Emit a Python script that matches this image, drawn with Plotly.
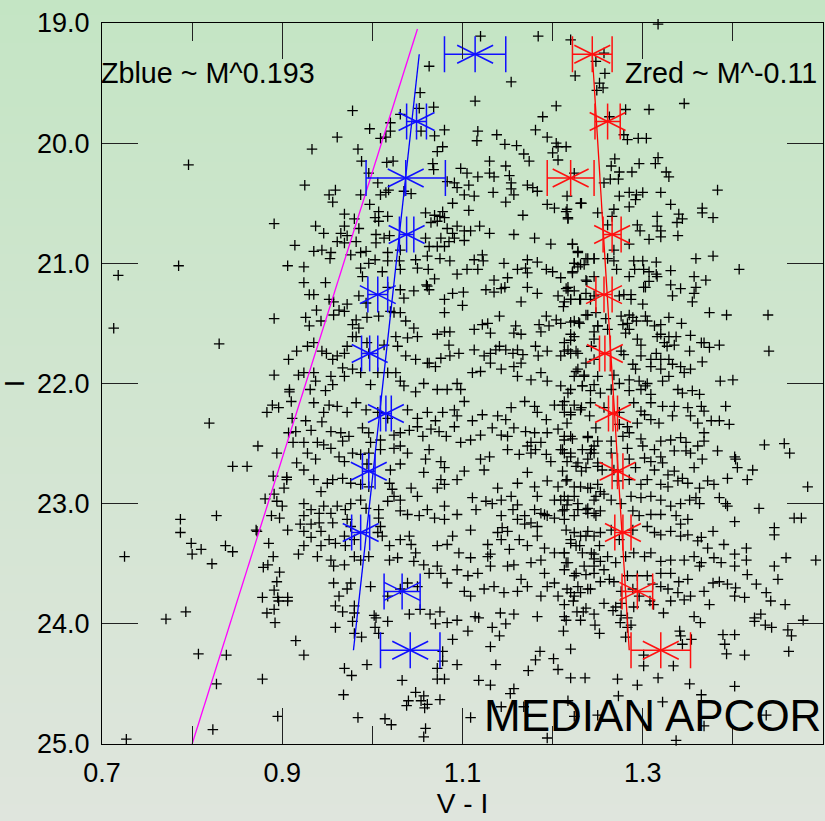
import plotly.graph_objects as go

# (V-I, I) photometry of the cluster candidates, grouped by region of the diagram
upper_pts = [
    (0.796, 20.18),
    (1.120, 19.11), (1.184, 19.11), (1.063, 19.36), (1.154, 19.49), (1.114, 19.65), (1.053, 19.58),
    (0.978, 19.73), (1.052, 19.71), (1.068, 19.70), (1.031, 19.76), (1.020, 19.83), (0.997, 19.88),
    (0.961, 19.95), (1.009, 19.96), (1.015, 19.95), (1.020, 19.90), (1.054, 19.90), (1.069, 19.94),
    (1.080, 19.89), (0.933, 20.05), (0.984, 20.05), (0.988, 20.15), (1.016, 20.16), (1.023, 20.15),
    (1.078, 20.03), (1.072, 20.07), (1.067, 20.17), (1.068, 20.22), (1.117, 19.90), (1.116, 19.98),
    (1.138, 19.93), (1.147, 20.01), (1.160, 20.02), (1.168, 20.09), (1.174, 20.15), (1.130, 20.15),
    (1.098, 20.21), (1.105, 20.25), (1.117, 20.28), (1.130, 20.25), (1.135, 20.28), (1.148, 20.19),
    (1.152, 20.27), (1.189, 19.78), (1.204, 19.69), (1.181, 19.89), (1.194, 19.95), (1.204, 20.00),
    (1.206, 20.03), (1.215, 20.03), (1.200, 20.08), (1.206, 20.14), (1.220, 19.14), (1.225, 19.44),
    (0.925, 20.35), (0.952, 20.43), (0.959, 20.39), (0.987, 20.43), (0.996, 20.25), (1.006, 20.33),
    (1.009, 20.43), (1.015, 20.41), (1.018, 20.39), (1.035, 20.40), (1.043, 20.42), (1.083, 20.32),
    (1.091, 20.33), (1.094, 20.37), (1.107, 20.35), (1.102, 20.43), (1.113, 20.44), (1.134, 20.41),
    (1.154, 20.33), (1.154, 20.38), (1.157, 20.43), (1.172, 20.35), (1.178, 20.37), (1.183, 20.40),
    (1.216, 20.44), (1.224, 20.25),
    (1.317, 19.01), (1.257, 19.25), (1.248, 19.32), (1.258, 19.42), (1.252, 19.50), (1.256, 19.54),
    (1.249, 19.56), (1.281, 19.72), (1.307, 19.72), (1.346, 19.67), (1.263, 19.78), (1.279, 19.93),
    (1.283, 19.97), (1.295, 19.96), (1.304, 19.96), (1.269, 20.13), (1.265, 20.19), (1.296, 20.17),
    (1.317, 20.12), (1.314, 20.17), (1.274, 20.24), (1.273, 20.30), (1.288, 20.24), (1.326, 20.24),
    (1.329, 20.28), (1.257, 20.33), (1.264, 20.30), (1.383, 20.39), (1.274, 20.44), (1.285, 20.41),
    (1.293, 20.43), (1.300, 20.41), (1.320, 20.41),
]

left_pts = [
    (0.891, 20.67), (0.914, 20.85), (0.785, 21.02), (0.906, 21.02), (0.718, 21.10), (0.891, 21.46),
    (0.713, 21.54), (0.830, 21.67), (0.916, 21.73), (0.907, 21.80), (0.891, 21.93), (0.908, 22.05),
    (0.908, 22.07), (0.918, 21.93),
    (0.819, 22.33), (0.883, 22.24), (0.889, 22.18), (0.896, 22.20), (0.910, 22.15), (0.911, 22.29),
    (0.915, 22.40), (0.907, 22.41), (0.912, 22.49), (0.916, 22.66), (0.873, 22.52), (0.894, 22.58),
    (0.845, 22.69), (0.861, 22.69), (0.890, 22.77), (0.905, 22.78), (0.905, 22.80), (0.902, 22.87),
    (0.881, 22.96), (0.891, 22.92), (0.894, 22.98), (0.900, 23.02), (0.888, 23.10), (0.897, 23.12),
    (0.906, 23.22), (0.871, 23.22), (0.872, 23.23), (0.920, 23.17), (0.918, 23.42), (0.827, 23.10),
    (0.787, 23.13), (0.787, 23.24), (0.799, 23.33), (0.800, 23.42), (0.810, 23.38), (0.837, 23.35),
    (0.845, 23.40), (0.822, 23.50), (0.725, 23.44), (0.885, 23.33), (0.890, 23.44), (0.879, 23.53),
    (0.884, 23.51), (0.897, 23.57), (0.894, 23.65), (0.891, 23.72), (0.878, 23.78), (0.895, 23.78),
    (0.906, 23.78),
]

mid_blue_pts = [
    (0.956, 20.49), (0.997, 20.51), (1.007, 20.57), (1.003, 20.62), (1.017, 20.61), (1.007, 20.65),
    (1.059, 20.58), (1.069, 20.60), (1.078, 20.57), (1.075, 20.61), (1.080, 20.62), (1.089, 20.50),
    (1.107, 20.56), (1.148, 20.49), (1.167, 20.60), (1.194, 20.51), (1.202, 20.54), (1.215, 20.57),
    (1.217, 20.62), (1.232, 20.50), (1.250, 20.58),
    (0.937, 20.69), (0.946, 20.75), (0.969, 20.59), (0.980, 20.63), (0.985, 20.71), (0.969, 20.69),
    (0.965, 20.75), (0.972, 20.77), (0.961, 20.82), (0.969, 20.83), (0.982, 20.82), (1.004, 20.76),
    (1.013, 20.79), (1.019, 20.77), (1.004, 20.83), (1.065, 20.66), (1.072, 20.65), (1.083, 20.71),
    (1.089, 20.75), (1.094, 20.69), (1.102, 20.73), (1.109, 20.73), (1.119, 20.69), (1.130, 20.75),
    (1.091, 20.79), (1.085, 20.82), (1.102, 20.81), (1.076, 20.79), (1.080, 20.86), (1.072, 20.86),
    (1.063, 20.86), (1.059, 20.79), (1.157, 20.76), (1.180, 20.79), (1.198, 20.84), (1.222, 20.84),
    (1.228, 20.90), (1.239, 20.96), (1.246, 20.96),
    (0.935, 20.90), (0.944, 20.89), (0.954, 20.91), (0.953, 20.96), (0.976, 20.93), (0.987, 20.91),
    (0.993, 20.90), (1.017, 20.91), (1.031, 20.89), (1.048, 20.97), (1.061, 20.94), (1.075, 20.96),
    (1.086, 20.98), (1.113, 20.97), (1.122, 20.93), (1.123, 20.98), (1.146, 21.00), (1.172, 20.97),
    (1.183, 20.99), (1.224, 21.00), (1.235, 21.01),
    (0.924, 21.03), (0.924, 21.16), (0.948, 21.16), (0.987, 21.04), (0.989, 21.11), (0.996, 21.00),
    (1.003, 20.97), (1.011, 21.07), (1.017, 20.98), (1.030, 20.98), (1.031, 21.05), (1.050, 21.04),
    (1.062, 21.05), (1.069, 21.13), (1.061, 21.19), (1.094, 21.09), (1.105, 21.05), (1.117, 21.05),
    (1.135, 21.14), (1.150, 21.12), (1.161, 21.05), (1.170, 21.04), (1.172, 21.08), (1.193, 21.05),
    (1.200, 21.07), (1.209, 21.12), (1.217, 21.20), (1.222, 21.08), (1.228, 21.03), (1.237, 21.14),
    (0.930, 21.26), (0.935, 21.26), (0.952, 21.30), (0.957, 21.32), (0.938, 21.39), (0.963, 21.39),
    (0.972, 21.34), (0.985, 21.27), (0.993, 21.33), (1.017, 21.20), (1.031, 21.22), (1.035, 21.29),
    (1.046, 21.23), (1.060, 21.18), (1.063, 21.22), (1.080, 21.30), (1.089, 21.25), (1.101, 21.24),
    (1.100, 21.35), (1.080, 21.41), (1.126, 21.22), (1.135, 21.24), (1.143, 21.21), (1.147, 21.20),
    (1.165, 21.32), (1.172, 21.20), (1.183, 21.25), (1.206, 21.27), (1.213, 21.32), (1.217, 21.23),
    (1.220, 21.30), (1.230, 21.30), (1.237, 21.25), (1.246, 21.27),
    (0.926, 21.45), (0.930, 21.52), (0.943, 21.48), (0.957, 21.43), (0.969, 21.40), (0.978, 21.51),
    (0.982, 21.47), (0.985, 21.54), (0.982, 21.61), (0.994, 21.45), (1.007, 21.44), (1.020, 21.40),
    (1.024, 21.41), (1.031, 21.41), (1.037, 21.48), (1.046, 21.54), (1.072, 21.59), (1.080, 21.57),
    (1.086, 21.57), (1.113, 21.55), (1.122, 21.51), (1.128, 21.50), (1.131, 21.58), (1.141, 21.44),
    (1.159, 21.52), (1.157, 21.58), (1.165, 21.59), (1.185, 21.51), (1.193, 21.44), (1.187, 21.57),
    (1.196, 21.52), (1.204, 21.47), (1.209, 21.50), (1.224, 21.48), (1.230, 21.50), (1.239, 21.43),
    (1.250, 21.52),
    (0.928, 21.69), (0.935, 21.66), (0.944, 21.73), (0.949, 21.75), (0.956, 21.80), (0.961, 21.77),
    (0.969, 21.75), (0.972, 21.69), (0.978, 21.61), (0.994, 21.66), (0.996, 21.75), (1.013, 21.68),
    (1.026, 21.61), (1.028, 21.69), (1.039, 21.62), (1.050, 21.61), (1.037, 21.77), (1.048, 21.80),
    (1.063, 21.83), (1.076, 21.79), (1.086, 21.77), (1.096, 21.75), (1.085, 21.68), (1.113, 21.72),
    (1.124, 21.77), (1.131, 21.75), (1.137, 21.72), (1.141, 21.69), (1.148, 21.72), (1.156, 21.75),
    (1.161, 21.72), (1.167, 21.76), (1.181, 21.69), (1.184, 21.77), (1.194, 21.73), (1.209, 21.77),
    (1.217, 21.72), (1.220, 21.64), (1.228, 21.75), (1.243, 21.69),
    (0.924, 21.91), (0.935, 21.91), (0.937, 21.98), (0.931, 22.05), (0.954, 21.94), (0.948, 22.06),
    (0.956, 22.01), (0.967, 21.87), (0.969, 21.94), (0.978, 21.88), (0.987, 21.91), (0.998, 22.01),
    (1.006, 21.91), (1.017, 21.91), (1.026, 21.91), (1.031, 21.98), (1.035, 22.02), (1.048, 22.07),
    (1.057, 22.00), (1.061, 21.83), (1.070, 21.86), (1.072, 22.05), (1.083, 22.05), (1.094, 22.00),
    (1.098, 22.05), (1.111, 21.91), (1.120, 21.90), (1.131, 21.83), (1.143, 21.88), (1.157, 21.86),
    (1.161, 21.94), (1.165, 21.83), (1.176, 21.97), (1.187, 21.91), (1.194, 21.98), (1.209, 22.02),
    (1.217, 22.08), (1.228, 21.88), (1.235, 21.94), (1.246, 22.01), (1.233, 22.02),
]

mid_red_pts = [
    (1.231, 20.50), (1.285, 20.53), (1.292, 20.47), (1.331, 20.51), (1.366, 20.54), (1.366, 20.58),
    (1.378, 20.62), (1.316, 20.61), (1.340, 20.59), (1.344, 20.63), (1.338, 20.66), (1.316, 20.69),
    (1.216, 20.55), (1.217, 20.63), (1.268, 20.55), (1.266, 20.61), (1.261, 20.68), (1.294, 20.68),
    (1.297, 20.73), (1.320, 20.73), (1.320, 20.78), (1.307, 20.80), (1.339, 20.77), (1.285, 20.84),
    (1.222, 20.84), (1.228, 20.91), (1.268, 20.89), (1.268, 20.98), (1.246, 20.96), (1.237, 20.96),
    (1.261, 20.96), (1.224, 21.00), (1.231, 21.01), (1.290, 20.98), (1.300, 20.98), (1.315, 20.99),
    (1.291, 21.05), (1.301, 21.05), (1.271, 21.05), (1.359, 20.96), (1.378, 20.94), (1.407, 21.05),
    (1.331, 21.06), (1.307, 21.07), (1.316, 21.11), (1.315, 21.09), (1.285, 21.11), (1.222, 21.07),
    (1.246, 21.11), (1.238, 21.15), (1.357, 21.11), (1.370, 21.14), (1.307, 21.15), (1.301, 21.20),
    (1.303, 21.20), (1.331, 21.18), (1.342, 21.21), (1.359, 21.20), (1.357, 21.25), (1.215, 21.21),
    (1.224, 21.23), (1.220, 21.30), (1.231, 21.30), (1.242, 21.30), (1.274, 21.27), (1.287, 21.26),
    (1.287, 21.30), (1.279, 21.26), (1.333, 21.27), (1.355, 21.32), (1.300, 21.34), (1.212, 21.36),
    (1.374, 21.41), (1.393, 21.43), (1.439, 21.43), (1.237, 21.43), (1.248, 21.41), (1.229, 21.49),
    (1.220, 21.49), (1.259, 21.46), (1.276, 21.44), (1.285, 21.43), (1.289, 21.45), (1.283, 21.50),
    (1.278, 21.51), (1.293, 21.48), (1.303, 21.44), (1.305, 21.48), (1.313, 21.52), (1.320, 21.51),
    (1.329, 21.45), (1.343, 21.50), (1.285, 21.55), (1.281, 21.58), (1.250, 21.52), (1.246, 21.57),
    (1.261, 21.55), (1.220, 21.59), (1.224, 21.61), (1.213, 21.66), (1.246, 21.63), (1.298, 21.68),
    (1.294, 21.63), (1.316, 21.61), (1.320, 21.59), (1.324, 21.66), (1.329, 21.61), (1.337, 21.61),
    (1.335, 21.68), (1.327, 21.69), (1.353, 21.60), (1.365, 21.66), (1.368, 21.66), (1.374, 21.70),
    (1.385, 21.68), (1.352, 21.73), (1.440, 21.73), (1.366, 21.82), (1.220, 21.75), (1.226, 21.73),
    (1.213, 21.73), (1.276, 21.73), (1.279, 21.76), (1.298, 21.77), (1.309, 21.80), (1.315, 21.75),
    (1.320, 21.80), (1.329, 21.80), (1.237, 21.83), (1.246, 21.80), (1.289, 21.84), (1.292, 21.88),
    (1.309, 21.86), (1.320, 21.88), (1.333, 21.84), (1.342, 21.86), (1.346, 21.91), (1.353, 21.88),
    (1.226, 21.90), (1.235, 21.93), (1.224, 21.94), (1.250, 21.94), (1.268, 21.93), (1.274, 22.00),
    (1.285, 21.97), (1.296, 21.98), (1.305, 22.00), (1.303, 22.02), (1.322, 21.98), (1.329, 21.94),
    (1.386, 21.98), (1.400, 21.97), (1.220, 22.05), (1.233, 22.02), (1.242, 22.06), (1.253, 22.08),
    (1.265, 22.05), (1.285, 22.06), (1.298, 22.05), (1.309, 22.09), (1.339, 22.05), (1.344, 22.08),
    (1.355, 22.06), (1.363, 22.09),
]

lower_blue_pts = [
    (0.935, 22.16), (0.952, 22.18), (0.946, 22.24), (0.961, 22.19), (0.972, 22.24), (0.982, 22.16),
    (0.993, 22.22), (1.006, 22.24), (1.017, 22.29), (1.039, 22.22), (1.050, 22.29), (1.061, 22.24),
    (1.070, 22.31), (1.078, 22.24), (1.091, 22.22), (1.102, 22.15), (1.094, 22.27), (1.111, 22.31),
    (1.122, 22.26), (1.139, 22.27), (1.154, 22.20), (1.148, 22.30), (1.169, 22.15), (1.180, 22.19),
    (1.183, 22.24), (1.193, 22.30), (1.202, 22.18), (1.211, 22.18), (1.213, 22.24), (1.220, 22.24),
    (1.232, 22.20), (1.241, 22.27), (0.926, 22.31), (0.944, 22.32),
    (0.932, 22.39), (0.954, 22.40), (0.965, 22.41), (0.967, 22.48), (0.974, 22.44), (0.989, 22.37),
    (0.996, 22.41), (0.998, 22.49), (1.009, 22.47), (1.024, 22.43), (1.031, 22.41), (1.041, 22.39),
    (1.050, 22.36), (1.056, 22.44), (1.065, 22.38), (1.074, 22.40), (1.082, 22.44), (1.091, 22.36),
    (1.098, 22.49), (1.109, 22.47), (1.120, 22.43), (1.133, 22.37), (1.143, 22.43), (1.150, 22.44),
    (1.157, 22.37), (1.170, 22.40), (1.180, 22.41), (1.176, 22.49), (1.187, 22.49), (1.194, 22.41),
    (1.206, 22.38), (1.213, 22.47), (1.220, 22.44), (1.239, 22.45), (1.248, 22.37), (0.924, 22.49),
    (0.939, 22.49), (0.946, 22.51),
    (0.928, 22.58), (0.937, 22.63), (0.954, 22.54), (0.963, 22.61), (0.969, 22.65), (0.978, 22.58),
    (0.987, 22.59), (0.996, 22.58), (1.009, 22.55), (1.024, 22.54), (1.031, 22.52), (1.039, 22.58),
    (1.063, 22.55), (1.076, 22.65), (1.080, 22.70), (1.059, 22.63), (1.120, 22.63), (1.130, 22.61),
    (1.124, 22.72), (1.102, 22.73), (1.150, 22.55), (1.163, 22.59), (1.172, 22.52), (1.176, 22.58),
    (1.181, 22.55), (1.193, 22.59), (1.198, 22.65), (1.209, 22.55), (1.213, 22.58), (1.220, 22.61),
    (1.228, 22.66), (1.239, 22.63), (1.243, 22.55), (1.246, 22.58), (1.250, 22.69), (0.994, 22.67),
    (1.020, 22.72), (1.031, 22.67),
    (0.924, 22.72), (0.935, 22.80), (0.950, 22.83), (0.943, 22.90), (0.956, 22.80), (0.967, 22.79),
    (0.976, 22.83), (0.987, 22.84), (0.996, 22.86), (1.019, 22.83), (1.022, 22.88), (1.031, 22.97),
    (1.043, 22.87), (1.050, 22.94), (1.057, 22.74), (1.076, 22.80), (1.094, 22.80), (1.072, 22.87),
    (1.080, 22.84), (1.111, 22.95), (1.115, 23.05), (1.139, 22.87), (1.143, 22.97), (1.154, 22.94),
    (1.161, 22.83), (1.172, 22.74), (1.180, 22.86), (1.183, 22.94), (1.194, 22.81), (1.206, 22.86),
    (1.215, 22.81), (1.224, 22.86), (1.232, 22.73), (1.239, 22.87), (1.248, 22.94), (1.239, 23.04),
    (1.228, 23.05), (1.217, 22.97), (1.209, 22.97), (1.202, 22.97), (1.194, 23.10), (1.187, 23.08),
    (1.180, 23.05), (1.169, 23.10), (1.161, 23.01), (1.156, 23.05), (1.143, 23.10), (1.133, 23.00),
    (0.924, 23.00), (0.932, 23.05), (0.924, 23.10), (0.941, 23.08), (0.946, 23.02), (0.954, 23.08),
    (0.961, 23.02), (0.970, 23.05), (0.976, 23.00), (0.987, 22.97), (0.993, 23.04), (1.007, 23.05),
    (1.017, 22.98), (1.024, 22.94), (1.031, 23.06), (1.039, 23.09), (1.052, 23.10), (1.061, 23.05),
    (1.069, 23.12), (1.080, 23.02), (1.080, 23.13), (1.094, 23.09), (1.109, 23.22), (1.126, 22.98),
    (1.144, 23.20), (1.150, 23.23), (1.161, 23.13), (1.169, 23.17), (1.176, 23.16), (1.183, 23.19),
    (1.191, 23.09), (1.202, 23.12), (1.213, 23.05), (1.246, 23.08), (0.924, 23.23), (0.932, 23.17),
    (0.941, 23.16), (0.943, 23.23), (0.956, 23.16), (0.972, 23.13), (0.976, 23.19), (1.007, 23.12),
    (1.009, 23.19),
    (0.924, 23.35), (0.932, 23.28), (0.943, 23.35), (0.952, 23.30), (0.959, 23.33), (0.969, 23.27),
    (0.970, 23.35), (0.980, 23.30), (1.006, 23.24), (1.011, 23.27), (1.019, 23.35), (1.031, 23.30),
    (1.041, 23.27), (1.043, 23.34), (1.048, 23.41), (1.072, 23.35), (1.083, 23.34), (1.089, 23.27),
    (1.096, 23.41), (1.109, 23.45), (1.128, 23.34), (1.131, 23.42), (1.139, 23.24), (1.143, 23.30),
    (1.152, 23.38), (1.163, 23.30), (1.172, 23.35), (1.183, 23.27), (1.191, 23.37), (1.202, 23.41),
    (1.213, 23.41), (1.220, 23.30), (1.230, 23.35), (1.237, 23.27), (1.243, 23.41), (1.246, 23.46),
    (1.252, 23.35),
    (0.939, 23.44), (0.954, 23.47), (0.957, 23.52), (0.969, 23.51), (0.980, 23.44), (0.987, 23.47),
    (0.996, 23.44), (1.019, 23.47), (1.028, 23.45), (1.046, 23.48), (1.057, 23.51), (1.063, 23.58),
    (1.072, 23.52), (1.076, 23.58), (1.094, 23.55), (1.106, 23.60), (1.117, 23.58), (1.128, 23.44),
    (1.131, 23.52), (1.150, 23.52), (1.157, 23.51), (1.165, 23.63), (1.176, 23.49), (1.187, 23.47),
    (1.191, 23.58), (1.202, 23.66), (1.213, 23.55), (1.217, 23.49), (1.224, 23.60), (1.235, 23.52),
    (1.246, 23.58), (0.957, 23.66), (0.976, 23.66), (0.963, 23.77), (0.972, 23.71), (0.998, 23.69),
    (1.017, 23.77), (1.031, 23.71), (1.039, 23.66), (1.050, 23.69), (1.083, 23.66), (1.102, 23.73),
    (1.109, 23.77), (1.124, 23.71), (1.135, 23.69), (1.146, 23.74), (1.161, 23.73), (1.172, 23.69),
    (1.187, 23.77), (1.194, 23.69), (1.206, 23.77), (1.220, 23.74), (1.228, 23.69), (1.239, 23.71),
]

lower_red_pts = [
    (1.213, 22.15), (1.224, 22.18), (1.220, 22.26), (1.216, 22.33), (1.231, 22.22), (1.242, 22.16),
    (1.257, 22.20), (1.274, 22.24), (1.290, 22.16), (1.298, 22.23), (1.309, 22.16), (1.322, 22.19),
    (1.335, 22.19), (1.333, 22.27), (1.350, 22.20), (1.353, 22.27), (1.365, 22.19), (1.368, 22.23),
    (1.361, 22.33), (1.376, 22.31), (1.385, 22.31), (1.396, 22.34), (1.392, 22.19), (1.368, 22.41),
    (1.318, 22.33), (1.309, 22.30), (1.302, 22.26), (1.294, 22.33), (1.283, 22.36), (1.274, 22.34),
    (1.213, 22.44), (1.222, 22.46), (1.239, 22.44), (1.250, 22.48), (1.265, 22.48), (1.278, 22.44),
    (1.285, 22.41), (1.298, 22.46), (1.320, 22.48), (1.331, 22.47), (1.342, 22.45), (1.348, 22.49),
    (1.361, 22.52), (1.368, 22.48), (1.383, 22.56), (1.402, 22.61), (1.403, 22.63), (1.435, 22.51),
    (1.457, 22.50), (1.463, 22.58), (1.246, 22.52), (1.233, 22.55), (1.242, 22.58), (1.220, 22.58),
    (1.211, 22.55), (1.265, 22.58), (1.283, 22.54), (1.300, 22.52), (1.313, 22.55), (1.320, 22.61),
    (1.335, 22.56), (1.348, 22.56), (1.353, 22.58),
    (1.216, 22.65), (1.226, 22.69), (1.237, 22.70), (1.250, 22.66), (1.255, 22.72), (1.268, 22.72),
    (1.285, 22.63), (1.292, 22.70), (1.302, 22.62), (1.309, 22.65), (1.313, 22.72), (1.322, 22.66),
    (1.328, 22.76), (1.335, 22.73), (1.344, 22.79), (1.357, 22.70), (1.366, 22.63), (1.372, 22.81),
    (1.379, 22.84), (1.394, 22.79), (1.405, 22.70), (1.416, 22.80), (1.422, 22.72), (1.363, 22.87),
    (1.211, 22.73), (1.216, 22.80), (1.231, 22.86), (1.242, 22.87), (1.250, 22.84), (1.253, 22.90),
    (1.272, 22.81), (1.285, 22.80), (1.298, 22.84), (1.305, 22.80), (1.320, 22.84), (1.328, 22.86),
    (1.339, 22.81), (1.350, 22.83),
    (1.213, 22.94), (1.224, 22.94), (1.228, 23.00), (1.216, 23.01), (1.237, 23.05), (1.246, 22.97),
    (1.257, 22.92), (1.265, 22.97), (1.276, 23.00), (1.287, 22.94), (1.298, 22.95), (1.309, 22.94),
    (1.320, 22.97), (1.331, 23.02), (1.342, 23.00), (1.352, 22.97), (1.359, 22.95), (1.363, 23.00),
    (1.385, 22.95), (1.392, 23.00), (1.394, 23.02), (1.402, 23.15), (1.429, 23.04), (1.446, 23.20),
    (1.446, 23.26), (1.211, 23.06), (1.213, 23.13), (1.224, 23.10), (1.239, 23.08), (1.248, 23.10),
    (1.253, 23.06), (1.289, 23.06), (1.296, 23.10), (1.309, 23.09), (1.320, 23.09), (1.337, 23.10),
    (1.342, 23.17), (1.350, 23.13),
    (1.215, 23.22), (1.224, 23.24), (1.231, 23.27), (1.239, 23.23), (1.246, 23.27), (1.253, 23.24),
    (1.265, 23.22), (1.274, 23.30), (1.289, 23.22), (1.305, 23.19), (1.313, 23.24), (1.320, 23.26),
    (1.331, 23.23), (1.342, 23.27), (1.350, 23.26), (1.361, 23.31), (1.365, 23.28), (1.372, 23.37),
    (1.378, 23.23), (1.390, 23.34), (1.402, 23.42), (1.415, 23.37), (1.468, 23.12), (1.476, 23.12),
    (1.483, 22.86), (1.220, 23.33), (1.213, 23.41), (1.226, 23.35), (1.233, 23.41), (1.246, 23.42),
    (1.253, 23.48), (1.261, 23.44), (1.270, 23.49), (1.281, 23.44), (1.290, 23.41), (1.302, 23.44),
    (1.309, 23.41), (1.320, 23.48), (1.331, 23.47), (1.346, 23.47), (1.357, 23.44), (1.365, 23.49),
    (1.379, 23.45), (1.387, 23.49), (1.402, 23.52), (1.415, 23.47), (1.446, 23.52), (1.459, 23.45),
    (1.492, 23.47),
    (1.215, 23.49), (1.226, 23.58), (1.237, 23.59), (1.246, 23.52), (1.257, 23.55), (1.268, 23.65),
    (1.283, 23.60), (1.294, 23.60), (1.305, 23.60), (1.311, 23.67), (1.320, 23.58), (1.331, 23.58),
    (1.340, 23.65), (1.350, 23.63), (1.363, 23.52), (1.378, 23.66), (1.385, 23.65), (1.394, 23.67),
    (1.403, 23.70), (1.416, 23.59), (1.426, 23.67), (1.437, 23.74), (1.450, 23.63), (1.216, 23.71),
    (1.224, 23.77), (1.231, 23.74), (1.242, 23.71), (1.253, 23.65), (1.263, 23.63), (1.276, 23.73),
    (1.289, 23.71), (1.296, 23.77), (1.320, 23.69), (1.328, 23.71), (1.339, 23.74), (1.353, 23.77),
    (1.368, 23.73), (1.402, 23.77), (1.413, 23.78),
]

faint_pts = [
    (0.771, 23.96), (0.793, 23.90), (0.807, 24.25), (0.838, 24.26), (0.827, 24.50), (0.823, 24.88),
    (0.727, 24.96), (0.878, 24.46), (0.895, 24.77), (0.883, 23.91), (0.891, 23.88), (0.892, 23.99),
    (0.896, 23.81), (0.906, 23.81), (0.915, 24.14),
    (0.959, 23.85), (0.967, 23.90), (0.980, 23.85), (0.980, 23.91), (0.978, 23.98), (0.959, 24.03),
    (0.980, 24.08), (0.988, 24.11), (0.924, 24.26), (1.002, 23.93), (1.004, 23.95), (1.003, 24.03),
    (1.007, 24.08), (1.017, 23.98), (1.041, 23.92), (1.053, 23.88), (1.064, 23.92), (1.075, 23.90),
    (1.070, 24.00), (1.083, 23.99), (1.094, 23.97), (1.089, 24.13), (1.106, 24.06), (1.114, 23.94),
    (1.118, 23.95), (1.133, 24.03), (1.141, 24.10), (1.142, 23.91), (1.148, 24.00), (1.157, 23.92),
    (1.183, 23.94), (1.213, 23.84), (1.213, 23.94), (1.215, 23.97), (1.212, 24.06), (1.223, 23.81),
    (1.227, 23.90), (1.234, 23.90), (1.237, 23.87), (1.246, 23.92), (1.247, 24.01), (1.252, 24.08),
    (1.231, 23.97), (1.131, 24.19), (1.137, 24.34), (1.094, 24.34), (1.078, 24.23), (1.078, 24.31),
    (1.072, 24.37), (0.969, 24.37), (0.977, 24.43), (0.994, 24.34), (0.968, 24.59), (1.033, 24.47),
    (1.072, 24.46), (1.080, 24.46), (1.048, 24.57), (1.057, 24.60), (1.054, 24.64), (1.061, 24.67),
    (1.058, 24.70), (1.040, 24.64), (1.038, 24.68), (1.075, 24.63), (0.984, 24.78), (1.014, 24.79),
    (1.021, 24.84), (1.059, 24.87), (1.057, 24.94), (1.109, 24.78), (1.118, 24.47), (1.131, 24.51),
    (1.153, 24.58), (1.157, 24.54), (1.173, 24.39), (1.181, 24.30), (1.186, 24.23), (1.201, 24.29),
    (1.206, 24.38), (1.220, 24.21), (1.220, 24.45), (1.236, 24.45), (1.143, 24.69), (1.168, 24.69),
    (1.217, 24.64), (1.224, 24.77), (1.250, 24.76), (1.194, 24.95),
    (1.257, 23.83), (1.267, 23.89), (1.270, 23.86), (1.276, 23.83), (1.276, 23.93), (1.275, 23.99),
    (1.283, 23.95), (1.287, 24.01), (1.283, 24.03), (1.281, 24.11), (1.290, 23.86), (1.308, 23.81),
    (1.312, 23.84), (1.323, 23.91), (1.331, 23.81), (1.346, 23.80), (1.341, 24.06), (1.342, 24.10),
    (1.344, 24.17), (1.354, 24.13), (1.334, 24.35), (1.301, 24.26), (1.301, 24.35), (1.317, 24.45),
    (1.374, 23.84), (1.357, 23.94), (1.364, 23.99), (1.389, 24.09), (1.391, 24.17), (1.393, 24.25),
    (1.402, 24.09), (1.413, 24.26), (1.424, 23.95), (1.431, 23.92), (1.424, 23.98), (1.436, 24.01),
    (1.443, 24.03), (1.442, 23.81), (1.458, 23.84), (1.461, 24.05), (1.465, 24.10), (1.462, 24.23),
    (1.478, 23.97), (1.272, 24.46), (1.294, 24.51), (1.273, 24.60), (1.352, 24.50), (1.365, 24.59),
    (1.402, 24.52), (1.322, 24.65), (1.368, 24.85), (1.337, 24.97), (1.437, 24.76),
]

# Binned peak colours of the two subpopulations (magnitude bin centres)
bin_mag = [19.26, 19.82, 20.29, 20.76, 21.26, 21.75, 22.25, 22.73, 23.24, 23.73, 24.22]
blue_peak = [1.114, 1.049, 1.037, 1.038, 1.006, 0.997, 1.015, 0.996, 0.987, 1.033, 1.042]
blue_err = [0.034, 0.011, 0.044, 0.008, 0.011, 0.009, 0.006, 0.007, 0.010, 0.020, 0.033]
red_peak = [1.244, 1.261, 1.220, 1.266, 1.257, 1.258, 1.267, 1.272, 1.278, 1.294, 1.320]
red_err = [0.022, 0.014, 0.026, 0.010, 0.009, 0.006, 0.005, 0.006, 0.009, 0.017, 0.033]

# Linear colour-magnitude trends and the colour limit line
blue_fit_mag, blue_fit_vi = [19.26, 24.22], [1.052, 0.979]
red_fit_mag, red_fit_vi = [19.26, 24.22], [1.244, 1.285]
limit_mag, limit_vi = [19.05, 25.0], [1.05, 0.80]

x_ticks = [0.7, 0.9, 1.1, 1.3]
x_minor = [0.8, 1.0, 1.2, 1.4]
y_ticks = [19, 20, 21, 22, 23, 24, 25]

FONT = "Liberation Sans, Arial, Helvetica, sans-serif"

all_pts = (upper_pts + left_pts + mid_blue_pts + mid_red_pts
           + lower_blue_pts + lower_red_pts + faint_pts)
vi = [p[0] for p in all_pts]
mag = [p[1] for p in all_pts]

fig = go.Figure()

fig.add_trace(go.Scatter(
    x=vi, y=mag, mode="markers", cliponaxis=False,
    marker=dict(symbol="cross-thin-open", size=7.5, color="black",
                line=dict(color="black", width=1.3)),
    hoverinfo="skip", showlegend=False))

fig.add_trace(go.Scatter(x=limit_vi, y=limit_mag, mode="lines",
                         line=dict(color="#ff00ff", width=1.3),
                         showlegend=False, hoverinfo="skip"))
fig.add_trace(go.Scatter(x=blue_fit_vi, y=blue_fit_mag, mode="lines",
                         line=dict(color="#0000ff", width=1.3),
                         showlegend=False, hoverinfo="skip"))
fig.add_trace(go.Scatter(x=red_fit_vi, y=red_fit_mag, mode="lines",
                         line=dict(color="#ff0000", width=1.3),
                         showlegend=False, hoverinfo="skip"))


def asterisk(xs, ys, errs, color):
    """Six-armed star with a horizontal error bar for each binned peak."""
    fig.add_trace(go.Scatter(
        x=xs, y=ys, mode="markers", cliponaxis=False,
        error_x=dict(type="data", array=errs, symmetric=True, color=color,
                     thickness=1.5, width=18),
        marker=dict(symbol="line-ns-open", size=25.7, color=color,
                    line=dict(color=color, width=1.5)),
        showlegend=False, hoverinfo="skip"))
    for ang in (26.6, -26.6):
        fig.add_trace(go.Scatter(
            x=xs, y=ys, mode="markers", cliponaxis=False,
            marker=dict(symbol="line-ew-open", size=28.7, angle=ang, color=color,
                        line=dict(color=color, width=1.5)),
            showlegend=False, hoverinfo="skip"))


asterisk(blue_peak, bin_mag, blue_err, "#1010ff")
asterisk(red_peak, bin_mag, red_err, "#ff1010")

# Soft vertical green-to-grey page gradient
shapes = []
n_bands = 90
top_rgb = (196, 229, 196)
bot_rgb = (223, 229, 221)
y_top, y_bot = 1.035, -0.11
for i in range(n_bands):
    t = (i + 0.5) / n_bands
    r, g, b = (round(top_rgb[k] + (bot_rgb[k] - top_rgb[k]) * t) for k in range(3))
    y1 = y_top - (y_top - y_bot) * i / n_bands
    y0 = y_top - (y_top - y_bot) * (i + 1) / n_bands
    shapes.append(dict(type="rect", xref="paper", yref="paper",
                       x0=-0.2, x1=1.05, y0=y0 - 0.001, y1=y1 + 0.001,
                       fillcolor=f"rgb({r},{g},{b})", line=dict(width=0),
                       layer="below"))

axis_common = dict(
    showgrid=False, zeroline=False, showline=True, linecolor="black",
    linewidth=1.3, mirror="ticks", ticks="inside", ticklen=36, tickwidth=1.3,
    tickcolor="#222222", tickfont=dict(family=FONT, size=27, color="black"),
)

fig.update_layout(
    width=825, height=821,
    margin=dict(l=102, r=2, t=23, b=77, autoexpand=False),
    paper_bgcolor="rgb(210,229,209)",
    plot_bgcolor="rgba(0,0,0,0)",
    shapes=shapes,
    xaxis=dict(
        axis_common, range=[0.7, 1.5], tickvals=x_ticks,
        ticktext=[f"{v:.1f}" for v in x_ticks], ticklabelstandoff=4,
        minor=dict(tickvals=x_minor, ticks="inside", ticklen=18,
                   tickwidth=1.3, tickcolor="#222222"),
        title=dict(text="V - I", font=dict(family=FONT, size=28, color="black"),
                   standoff=6),
    ),
    yaxis=dict(
        axis_common, range=[25, 19], tickvals=y_ticks, tickformat=".1f",
        ticklabelstandoff=6,
        title=dict(text="I", font=dict(family=FONT, size=27, color="black"),
                   standoff=4),
    ),
    annotations=[
        dict(text="Zblue ~ M^0.193", xref="paper", yref="paper", x=-0.004, y=0.931,
             xanchor="left", yanchor="middle", showarrow=False,
             font=dict(family=FONT, size=28.7, color="black")),
        dict(text="Zred ~ M^-0.11", xref="paper", yref="paper", x=0.995, y=0.931,
             xanchor="right", yanchor="middle", showarrow=False,
             font=dict(family=FONT, size=28.7, color="black")),
        dict(text="MEDIAN APCOR", xref="paper", yref="paper", x=1.0, y=0.039,
             xanchor="right", yanchor="middle", showarrow=False,
             font=dict(family=FONT, size=44, color="black")),
    ],
)

fig.write_html("out.html")
